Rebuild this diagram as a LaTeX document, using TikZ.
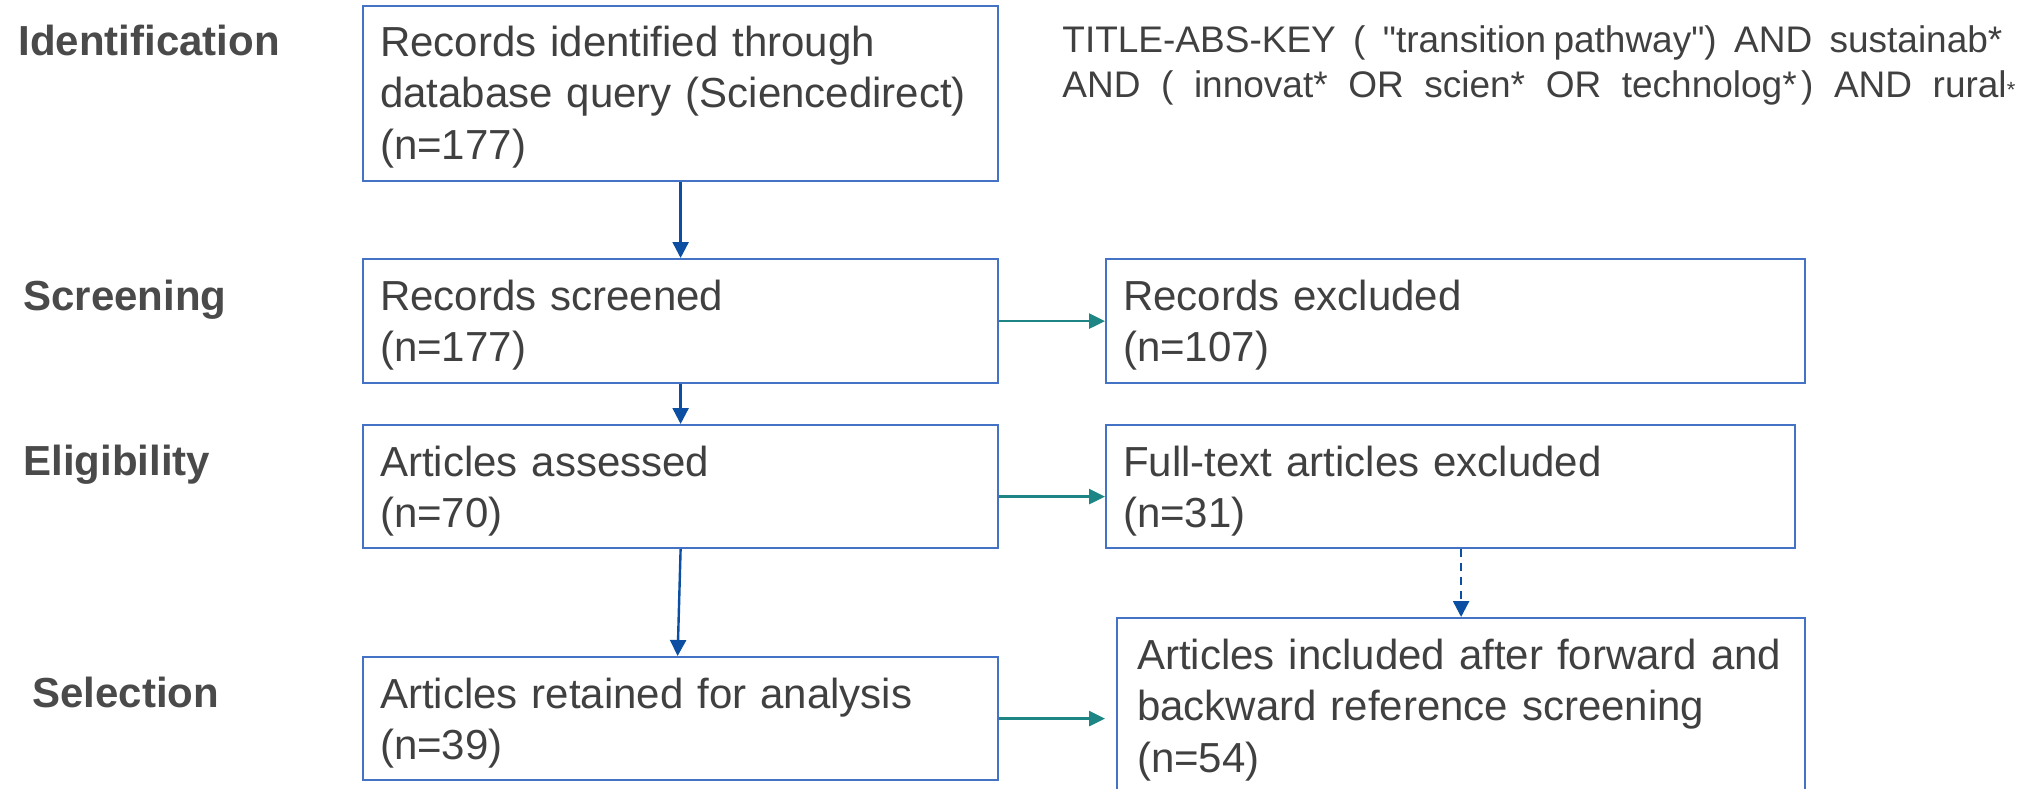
\documentclass[tikz,border=0pt]{standalone}
\usepackage{fontspec}
\setmainfont{Liberation Sans}
\newfontfamily\qfont{Liberation Sans}[Ligatures=TeXOff]
\usetikzlibrary{arrows.meta,calc}
\definecolor{boxblue}{HTML}{4472C4}
\definecolor{arrblue}{HTML}{0B4EA2}
\definecolor{teal}{HTML}{1E8585}
\definecolor{txtgray}{HTML}{404040}
\definecolor{lblgray}{HTML}{4A4A4A}
\begin{document}
\begin{tikzpicture}[x=0.5pt,y=-0.5pt,
  box/.style={draw=boxblue, line width=1.1pt, rectangle, anchor=north west,
    inner xsep=8.5pt, inner ysep=0pt, align=left, text=txtgray,
    font=\fontsize{21}{25.75}\selectfont},
  stage/.style={anchor=base west, inner sep=0pt, text=lblgray,
    font=\fontsize{21}{24}\selectfont\bfseries},
  query/.style={anchor=base west, inner sep=0pt, text=txtgray,
    font=\qfont\fontsize{18.5}{22}\selectfont},
  downarrow/.style={draw=arrblue, line width=1.2pt, -{Triangle[length=8pt,width=8pt]}},
  sidearrow/.style={draw=teal, line width=1.3pt, -{Triangle[length=8pt,width=7.5pt]}}
]
\useasboundingbox (0,0) rectangle (2027,788);

% stage labels
\node[stage] (lid) at (18,55) {Identification};
\node[stage] (lsc) at (23,310) {Screening};
\node[stage] (lel) at (23,475) {Eligibility};
\node[stage] (lse) at (32,707) {Selection};

% main column
\node[box, text width=300.5pt, text height=25pt, text depth=62.5pt] (b1) at (362,5)
  {Records identified through\\database query (Sciencedirect)\\(n=177)};
\node[box, text width=300.5pt, text height=25.5pt, text depth=36.5pt] (b2) at (362,258)
  {Records screened\\(n=177)};
\node[box, text width=300.5pt, text height=25.5pt, text depth=36pt] (b3) at (362,424)
  {Articles assessed\\(n=70)};
\node[box, text width=300.5pt, text height=25.5pt, text depth=36pt] (b4) at (362,656)
  {Articles retained for analysis\\(n=39)};

% right column
\node[box, text width=332.5pt, text height=25.5pt, text depth=36.5pt] (e1) at (1105,258)
  {Records excluded\\(n=107)};
\node[box, text width=327.5pt, text height=25.5pt, text depth=36pt] (e2) at (1105,424)
  {Full-text articles excluded\\(n=31)};
\node[box, inner xsep=10pt, text width=324pt, text height=25.5pt, text depth=66pt] (inc) at (1116,617)
  {Articles included after forward and\\backward reference screening\\(n=54)};

% query
\node[query] (q1) at (1062,52)
  {\makebox[470pt][s]{TITLE-ABS-KEY ( "transition\hspace{0.2em}pathway") AND sustainab*}};
\node[query] (q2) at (1062,97)
  {\makebox[476.5pt][s]{AND ( innovat* OR scien* OR technolog*\hspace{0.12em}) AND rural{\fontsize{11}{12}\selectfont*}}};

% connectors
\draw[downarrow] (b1.south) -- (b2.north);
\draw[downarrow] (b2.south) -- (b3.north);
\draw[downarrow] (b3.south) -- ($(b4.north)+(-3,0)$);
\draw[downarrow, dash pattern=on 4pt off 3pt] ([xshift=5.25pt]e2.south) -- (inc.north);

\draw[sidearrow] (b2.east) -- (e1.west);
\draw[sidearrow] ([yshift=-5pt]b3.east) -- ([yshift=-5pt]e2.west);
\draw[sidearrow, shorten >=5.5pt] (b4.east) -- (b4.east -| inc.west);
\end{tikzpicture}
\end{document}
